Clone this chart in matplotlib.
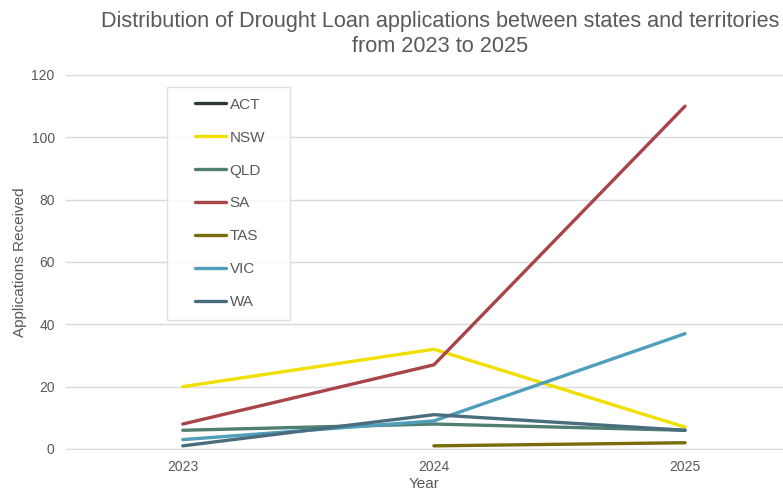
import matplotlib.pyplot as plt
from matplotlib.legend_handler import HandlerLine2D
import numpy as np

plt.rcParams["font.family"] = ["Liberation Sans", "DejaVu Sans"]

years = ["2023", "2024", "2025"]
states = ["ACT", "NSW", "QLD", "SA", "TAS", "VIC", "WA"]
act = [np.nan, np.nan, 1]
nsw = [20, 32, 7]
qld = [6, 8, 6]
sa = [8, 27, 110]
tas = [np.nan, 1, 2]
vic = [3, 9, 37]
wa = [1, 11, 6]
colors = ["#2e3a35", "#f0df00", "#4f7f70", "#a8444a", "#7a6e0c", "#4f9fbb", "#4a6d7d"]

grey = "#595959"


class OffsetLine(HandlerLine2D):
    # draw the legend line only in the right part of the handle area
    def create_artists(self, legend, orig_handle, xdescent, ydescent, width, height, fontsize, trans):
        arts = super().create_artists(legend, orig_handle, xdescent, ydescent, width, height, fontsize, trans)
        for a in arts:
            xd = np.asarray(a.get_xdata(), dtype=float)
            if len(xd) >= 2:
                start = xd[0] + 0.35 * (xd[-1] - xd[0])
                a.set_xdata(np.linspace(start, xd[-1], len(xd)))
        return arts


fig = plt.figure(figsize=(7.83, 4.95), dpi=100)
ax = fig.add_axes([0.084, 0.093, 0.916, 0.7555])

x = np.arange(len(years))
for name, vals, c in zip(states, [act, nsw, qld, sa, tas, vic, wa], colors):
    ax.plot(x, vals, color=c, linewidth=2.4, label=name, solid_capstyle="round")

ax.set_xlim(-0.466, 2.39)
ax.set_ylim(0, 120)
ax.set_yticks(range(0, 121, 20))
ax.set_xticks(x)
ax.set_xticklabels(years)
ax.grid(axis="y", color="#d9d9d9", linewidth=1)
ax.set_axisbelow(True)
for s in ["top", "right", "left"]:
    ax.spines[s].set_visible(False)
ax.spines["bottom"].set_color("#d9d9d9")
ax.tick_params(colors=grey, labelsize=10, length=0, pad=8)

ax.set_xlabel("Year", color=grey, fontsize=11, labelpad=2)
ax.set_ylabel("Applications Received", color=grey, fontsize=11, labelpad=3)
fig.text(0.562, 0.884, "Distribution of Drought Loan applications between states and territories\nfrom 2023 to 2025",
         ha="center", va="bottom", fontsize=15.6, color=grey, linespacing=1.25)

leg = ax.legend(loc="upper left", bbox_to_anchor=(0.141, 0.968, 0.1715, 0.0), mode="expand",
                frameon=True, fancybox=False, edgecolor="#d9d9d9", handlelength=3.2,
                handletextpad=0.2, labelspacing=1.24, borderpad=0.7, fontsize=11,
                borderaxespad=0, handler_map={plt.Line2D: OffsetLine()})
leg.get_frame().set_linewidth(1)
for t in leg.get_texts():
    t.set_color(grey)

fig.savefig("out.png", dpi=100)
